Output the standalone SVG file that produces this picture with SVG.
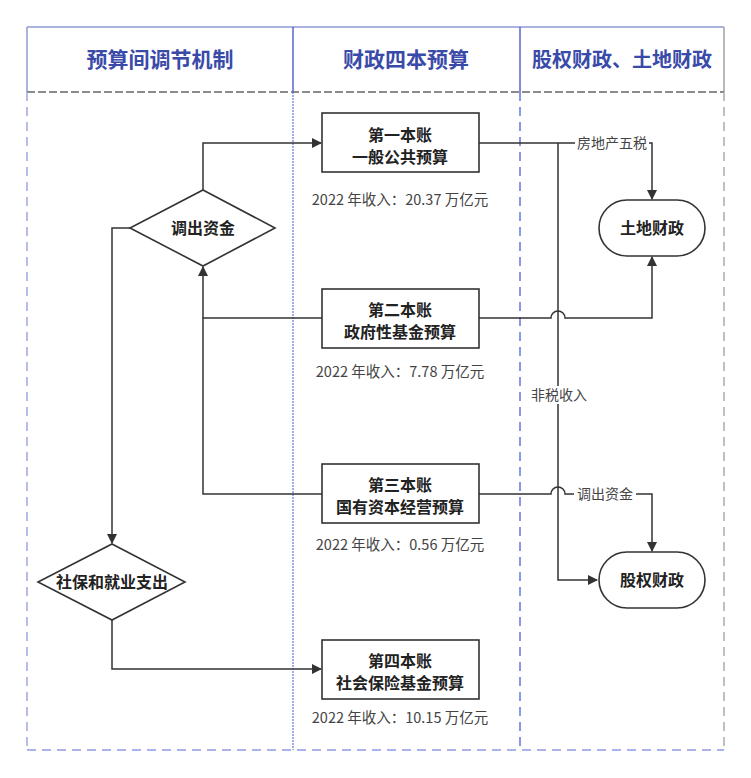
<svg xmlns="http://www.w3.org/2000/svg" width="751" height="778" viewBox="0 0 751 778">
<style>
.hdr{font-family:"Noto Sans CJK SC","Liberation Sans",sans-serif;font-weight:bold;font-size:21px;fill:#3a4aa8;text-anchor:middle}
.nt{font-family:"Noto Sans CJK SC","Liberation Sans",sans-serif;font-weight:bold;font-size:16px;fill:#222;text-anchor:middle}
.lb{font-family:"Noto Sans CJK SC","Liberation Sans",sans-serif;font-size:14.5px;fill:#444;text-anchor:middle}
.lb2{font-family:"Noto Sans CJK SC","Liberation Sans",sans-serif;font-size:14px;fill:#444;text-anchor:middle}
.box{fill:#fff;stroke:#333;stroke-width:1.6}
.ln{fill:none;stroke:#333;stroke-width:1.5}
.bg{fill:#fff}
</style>
<defs>
<marker id="arr" markerWidth="10" markerHeight="10" refX="9" refY="5" orient="auto" markerUnits="userSpaceOnUse">
<path d="M0,0 L10,5 L0,10 Z" fill="#333"/>
</marker>
</defs>
<rect width="751" height="778" fill="#fff"/>
<g id="lanes">
<line x1="27" y1="27" x2="724" y2="27" stroke="#8f9ad0" stroke-width="1.5"/>
<line x1="27" y1="27" x2="27" y2="92" stroke="#8f9ad0" stroke-width="1.5"/>
<line x1="724" y1="27" x2="724" y2="92" stroke="#a0a0aa" stroke-width="1.5"/>
<line x1="293" y1="27" x2="293" y2="92" stroke="#5566cc" stroke-width="1.5"/>
<line x1="520" y1="27" x2="520" y2="92" stroke="#5566cc" stroke-width="1.5"/>
<line x1="27" y1="92" x2="724" y2="92" stroke="#666" stroke-width="1.5" stroke-dasharray="8,3"/>
<line x1="27" y1="92" x2="27" y2="750" stroke="#a0a8e0" stroke-width="1.5" stroke-dasharray="9,6"/>
<line x1="724" y1="92" x2="724" y2="750" stroke="#aaaab2" stroke-width="1.5" stroke-dasharray="9,6"/>
<line x1="293" y1="92" x2="293" y2="750" stroke="#6676dd" stroke-width="1.2" stroke-dasharray="2,1"/>
<line x1="520" y1="92" x2="520" y2="750" stroke="#6676dd" stroke-width="1.5" stroke-dasharray="9,6"/>
<line x1="27" y1="750" x2="724" y2="750" stroke="#8f9ae8" stroke-width="1.5" stroke-dasharray="9,6"/>
<text class="hdr" x="160" y="67">预算间调节机制</text>
<text class="hdr" x="406" y="67">财政四本预算</text>
<text class="hdr" x="622" y="67" style="font-size:20px">股权财政、土地财政</text>
</g>
<g id="connectors">
<path class="ln" d="M203,190 V143 H321" marker-end="url(#arr)"/>
<path class="ln" d="M130,228 H112 V543" marker-end="url(#arr)"/>
<path class="ln" d="M322,318 H203 V267" marker-end="url(#arr)"/>
<path class="ln" d="M322,494 H203 V318"/>
<path class="ln" d="M112,620 V669 H321" marker-end="url(#arr)"/>
<path class="ln" d="M479,143 H652 V199" marker-end="url(#arr)"/>
<path class="ln" d="M558,143 V580 H597" marker-end="url(#arr)"/>
<path class="ln" d="M479,318 H551 A7,7 0 0 1 565,318 H652 V257" marker-end="url(#arr)"/>
<path class="ln" d="M479,494 H551 A7,7 0 0 1 565,494 H652 V551" marker-end="url(#arr)"/>
<rect class="bg" x="575" y="134" width="74" height="18"/>
<text class="lb2" x="612" y="148">房地产五税</text>
<rect class="bg" x="529" y="386" width="60" height="18"/>
<text class="lb2" x="559" y="400">非税收入</text>
<rect class="bg" x="574" y="485" width="62" height="18"/>
<text class="lb2" x="605" y="499">调出资金</text>
</g>
<g id="box1">
<rect class="box" x="322" y="113" width="157" height="59"/>
<text class="nt" x="400" y="141">第一本账</text>
<text class="nt" x="400" y="163">一般公共预算</text>
<text class="lb" x="400" y="205">2022 年收入：20.37 万亿元</text>
</g>
<g id="box2">
<rect class="box" x="322" y="289" width="157" height="59"/>
<text class="nt" x="400" y="316">第二本账</text>
<text class="nt" x="400" y="338">政府性基金预算</text>
<text class="lb" x="400" y="377">2022 年收入：7.78 万亿元</text>
</g>
<g id="box3">
<rect class="box" x="322" y="464" width="157" height="59"/>
<text class="nt" x="400" y="491">第三本账</text>
<text class="nt" x="400" y="513">国有资本经营预算</text>
<text class="lb" x="400" y="550">2022 年收入：0.56 万亿元</text>
</g>
<g id="box4">
<rect class="box" x="322" y="640" width="157" height="59"/>
<text class="nt" x="400" y="667">第四本账</text>
<text class="nt" x="400" y="689">社会保险基金预算</text>
<text class="lb" x="400" y="723">2022 年收入：10.15 万亿元</text>
</g>
<g id="diamond1">
<polygon class="box" points="203,190 275,228 203,266 130,228"/>
<text class="nt" x="203" y="234">调出资金</text>
</g>
<g id="diamond2">
<polygon class="box" points="112,544 185,582 112,620 38,582"/>
<text class="nt" x="112" y="588">社保和就业支出</text>
</g>
<g id="land">
<rect class="box" x="599" y="200" width="106" height="56" rx="28" ry="28"/>
<text class="nt" x="652" y="234">土地财政</text>
</g>
<g id="equity">
<rect class="box" x="599" y="552" width="106" height="56" rx="28" ry="28"/>
<text class="nt" x="652" y="586">股权财政</text>
</g>
</svg>
